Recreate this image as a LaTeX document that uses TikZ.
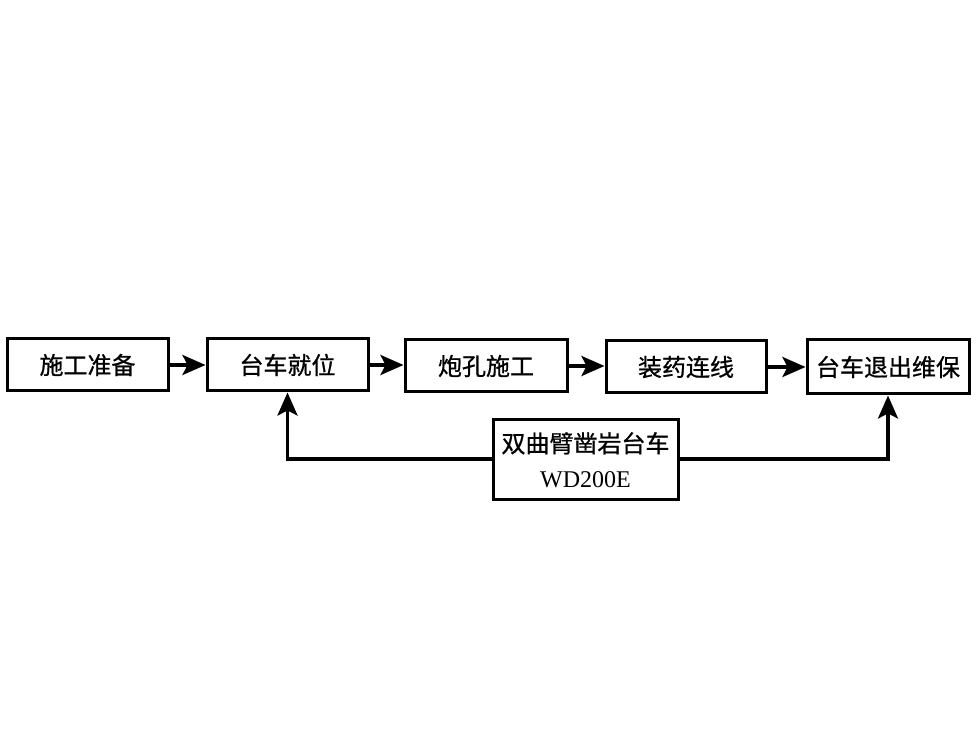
\documentclass[tikz,border=0pt]{standalone}
\usepackage{fontspec}
\setmainfont{Liberation Serif}
\newfontfamily\cjk[FakeBold=0.8]{Noto Sans CJK SC}
\usetikzlibrary{arrows.meta}
\begin{document}
\begin{tikzpicture}[x=1pt,y=1pt,
  procbox/.style={draw=black, line width=3pt, minimum height=52pt, inner sep=0pt,
    font=\fontsize{24}{35}\selectfont\cjk, align=center},
  flow/.style={line width=3.4pt, -{Stealth[length=23pt,width=20pt,inset=5pt]}}]
\useasboundingbox[fill=white] (0,0) rectangle (978,729);
\node[procbox, minimum width=161pt] (a) at (87.5,364) {施工准备};
\node[procbox, minimum width=161pt] (b) at (287.5,364) {台车就位};
\node[procbox, minimum width=162pt] (c) at (486,363) {炮孔施工};
\node[procbox, minimum width=160pt] (d) at (686,362) {装药连线};
\node[procbox, minimum width=162pt, minimum height=54pt] (e) at (888,362) {台车退出维保};
\node[procbox, minimum width=185pt, minimum height=80pt] (f) at (585.5,269) {双曲臂凿岩台车\\{\rmfamily\fontsize{24}{35}\selectfont WD200E}};
\draw[flow] (a.east) -- (b.west |- a.east);
\draw[flow] (b.east) -- (c.west |- b.east);
\draw[flow] (c.east) -- (d.west |- c.east);
\draw[flow] (d.east) -- (e.west |- d.east);
\coordinate (fl) at (287.5,270);
\coordinate (fr) at (888,270);
\draw[flow] (f.west |- fl) -- (fl) -- (b.south);
\draw[flow] (f.east |- fr) -- (fr) -- (e.south);
\end{tikzpicture}
\end{document}
